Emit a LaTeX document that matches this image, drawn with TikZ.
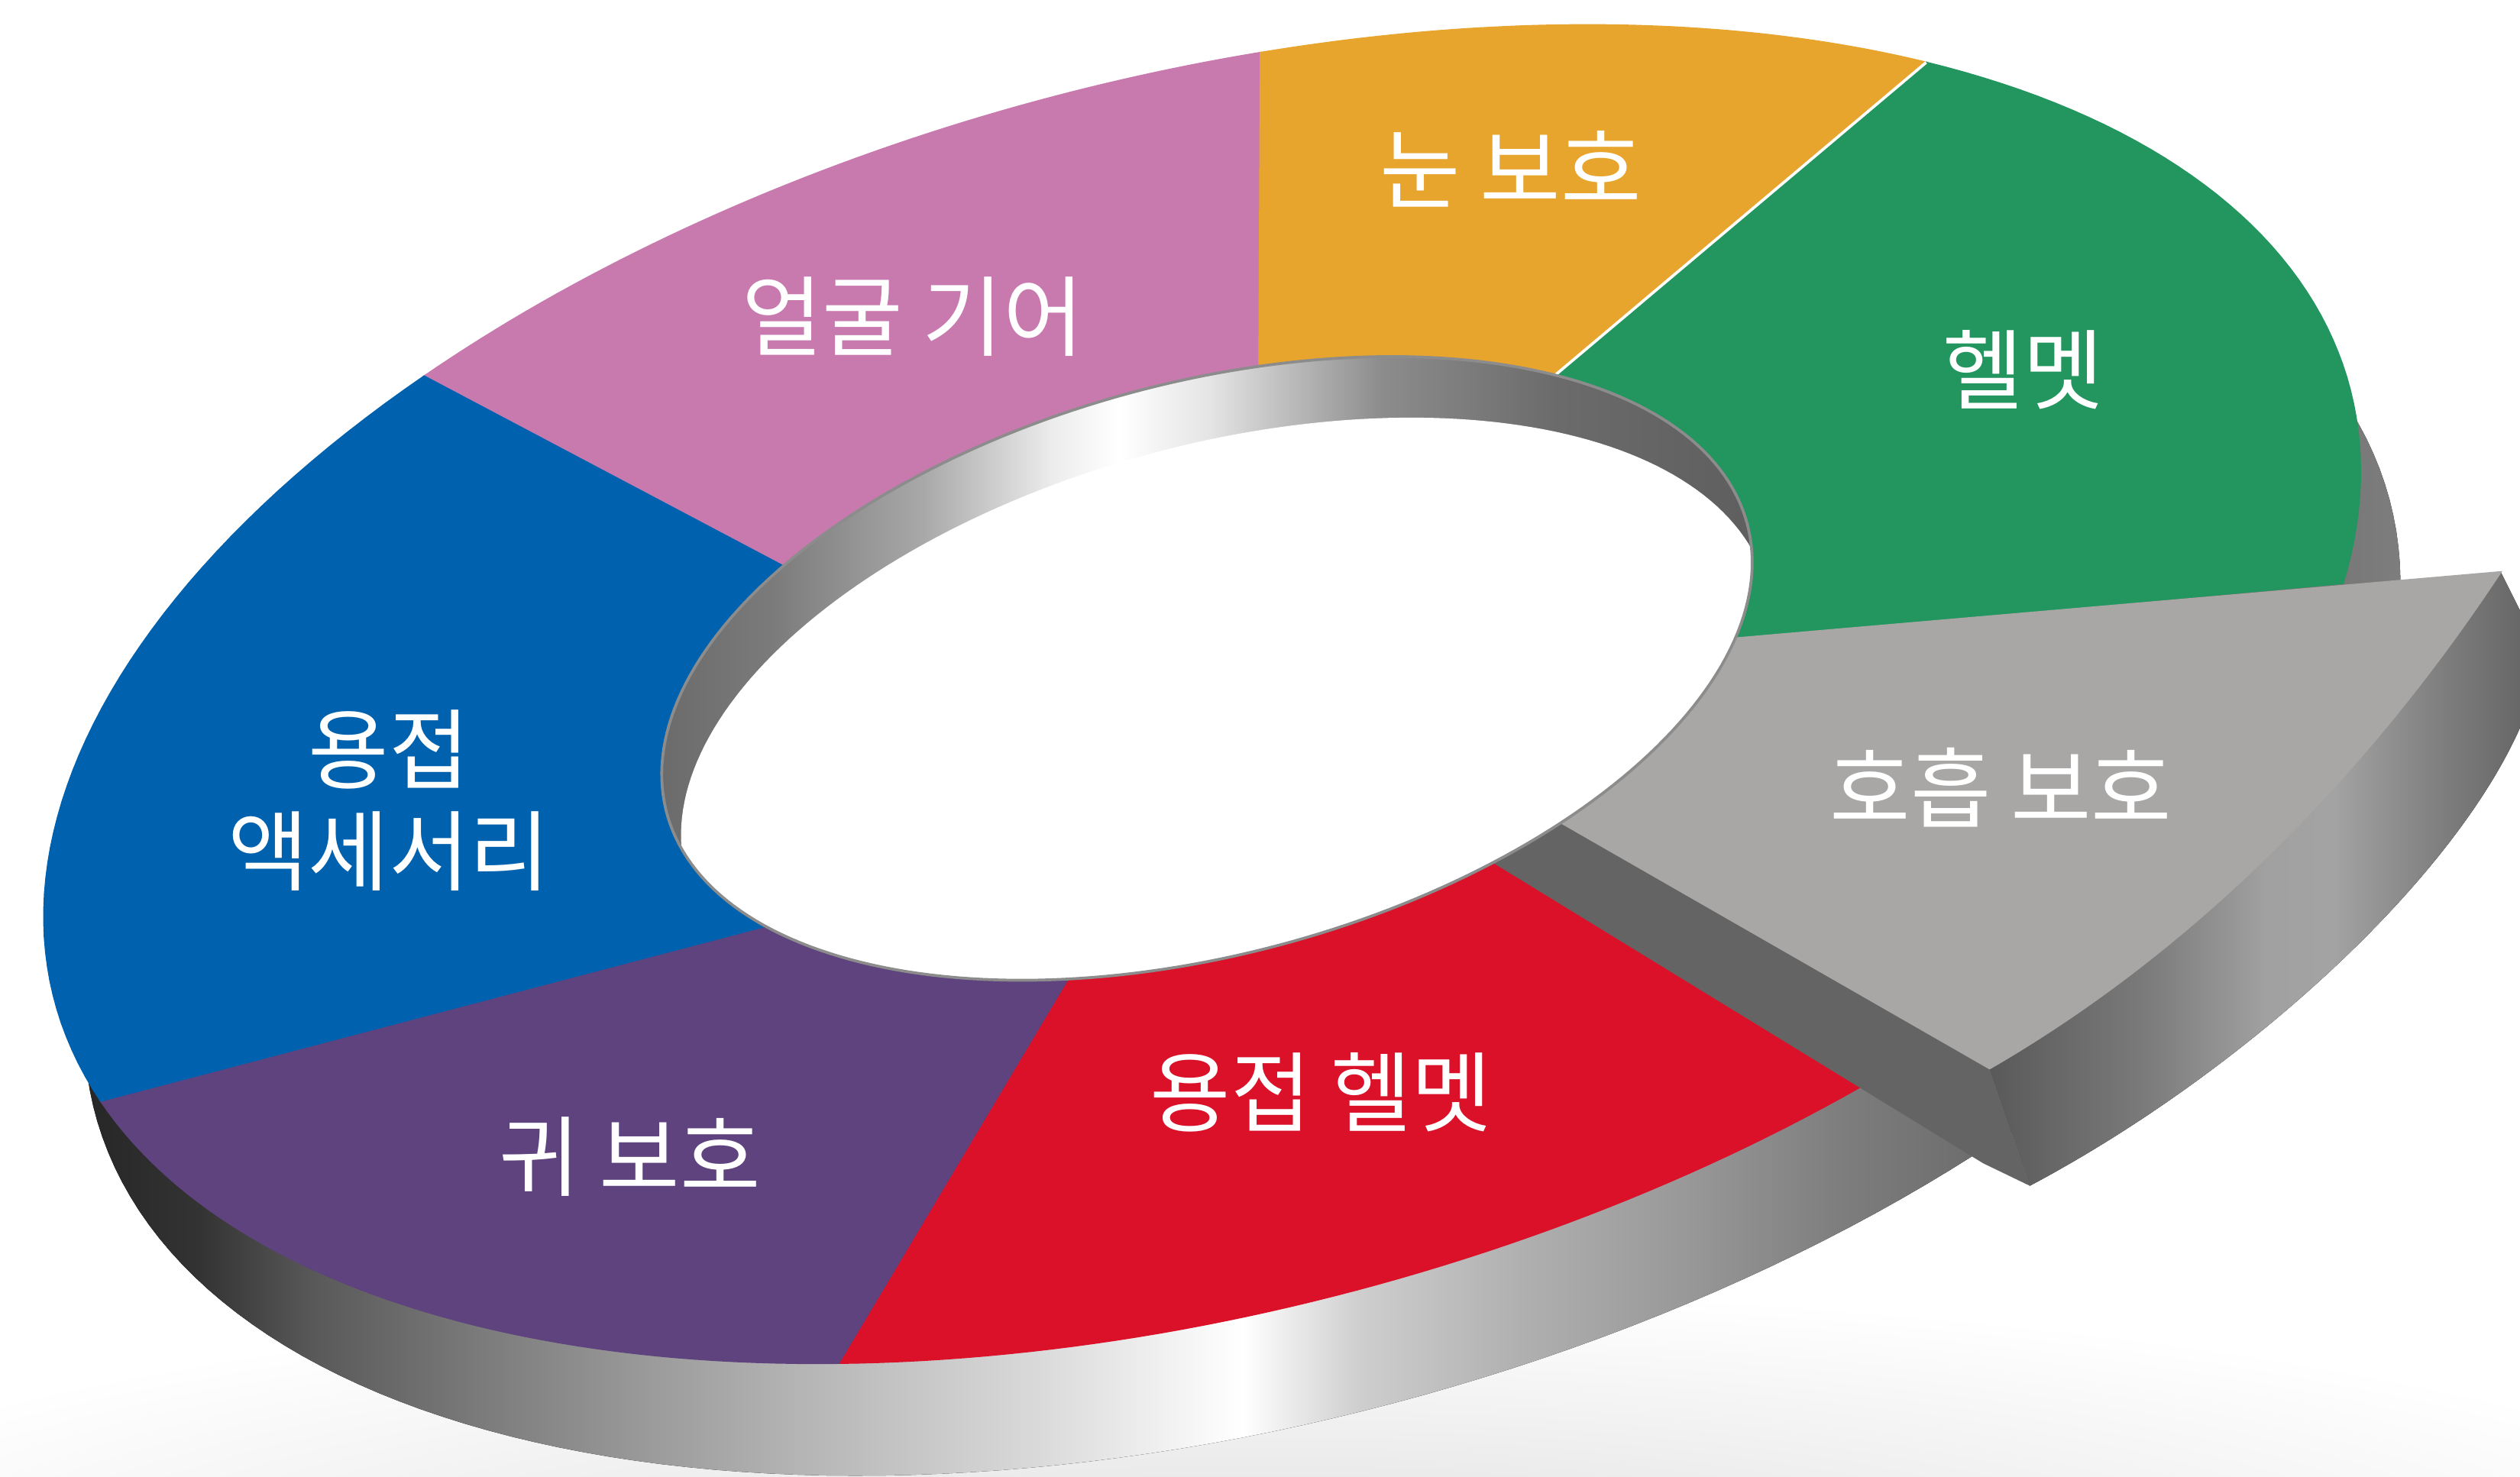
\documentclass[tikz,border=0pt]{standalone}
\usepackage{fontspec}
\newfontfamily\kofont{Noto Sans CJK KR}
\definecolor{facegear}{HTML}{C87AAF}
\definecolor{eyeprot}{HTML}{E8A52D}
\definecolor{helmet}{HTML}{23965F}
\definecolor{resp}{HTML}{A9A7A5}
\definecolor{weldhelmet}{HTML}{DA1129}
\definecolor{earprot}{HTML}{5E437E}
\definecolor{weldacc}{HTML}{0062AE}
\definecolor{cutface}{HTML}{646464}
\pgfdeclarehorizontalshading{outerwall}{100bp}{color(0bp)=(black!85); color(25bp)=(black!85); color(27.5bp)=(black!80); color(30bp)=(black!65); color(33.5bp)=(black!52); color(37bp)=(black!40); color(40.5bp)=(black!29); color(45.5bp)=(black!15); color(50bp)=(white); color(52.5bp)=(black!19); color(56bp)=(black!31); color(59.5bp)=(black!40); color(63bp)=(black!51); color(68bp)=(black!62); color(75bp)=(black!51); color(100bp)=(black!51)}
\pgfdeclarehorizontalshading{innerwall}{100bp}{color(0bp)=(black!58); color(25bp)=(black!58); color(30bp)=(black!52); color(37bp)=(black!34); color(43bp)=(black!7); color(46bp)=(white); color(50bp)=(black!10); color(58bp)=(black!45); color(66bp)=(black!58); color(75bp)=(black!63); color(100bp)=(black!63)}
\pgfdeclarehorizontalshading{grayside}{100bp}{color(0bp)=(black!65); color(25bp)=(black!65); color(39bp)=(black!52); color(50bp)=(black!37); color(56bp)=(black!36); color(67bp)=(black!52); color(75bp)=(black!62); color(100bp)=(black!62)}
\begin{document}
\begin{tikzpicture}[x=0.01cm,y=-0.01cm,samples=50,variable=\t,
  declare function={ox(\t)=748+739*cos(\t)*0.9659+383*sin(\t)*0.2588;
    oy(\t)=432-739*cos(\t)*0.2588+383*sin(\t)*0.9659;
    ix(\t)=751+348*cos(\t)*0.9659+178*sin(\t)*0.2588;
    iy(\t)=416-348*cos(\t)*0.2588+178*sin(\t)*0.9659;},
  seg/.style={fill=#1,draw=#1,line width=0.3pt},
  ring/.style={samples=240},
  lbl/.style={text=white,font=\kofont\fontsize{15.5}{18}\selectfont,align=center,inner sep=0pt}]
 \useasboundingbox (0,0) rectangle (1568,919);
 \shade[inner color=black!13,outer color=white] (-220,800) rectangle (1780,1180);
 \fill[shading=outerwall,ring] plot[domain=0:360] ({ox(\t)+25},{oy(\t)+70}) -- cycle;
 \path[seg=facegear] plot[domain=235.7:280.8] ({ox(\t)},{oy(\t)}) -- plot[domain=283.3:226.8] ({ix(\t)},{iy(\t)}) -- cycle;
 \path[seg=eyeprot] plot[domain=280.8:316.6] ({ox(\t)},{oy(\t)}) -- plot[domain=317.5:283.3] ({ix(\t)},{iy(\t)}) -- cycle;
 \path[seg=helmet] plot[domain=316.6:377.8] ({ox(\t)},{oy(\t)}) -- plot[domain=382.1:317.5] ({ix(\t)},{iy(\t)}) -- cycle;
 \path[seg=weldhelmet] plot[domain=63.3:116.2] ({ox(\t)},{oy(\t)}) -- plot[domain=112.6:66.1] ({ix(\t)},{iy(\t)}) -- cycle;
 \path[seg=earprot] plot[domain=116.2:169.9] ({ox(\t)},{oy(\t)}) -- plot[domain=151.9:112.6] ({ix(\t)},{iy(\t)}) -- cycle;
 \path[seg=weldacc] plot[domain=169.9:235.7] ({ox(\t)},{oy(\t)}) -- plot[domain=226.8:151.9] ({ix(\t)},{iy(\t)}) -- cycle;
 \draw[white,line width=0.5pt] ({ox(316.6)},{oy(316.6)}) -- ({ix(317.5)},{iy(317.5)});
 \fill[shading=grayside] (1556,356) .. controls (1473.5,481) and (1366,591) .. (1238,665) -- (1263,738) .. controls (1410,660) and (1565,515) .. (1582,408) -- cycle;
 \fill[cutface] (929,537) -- (971,512) -- (1238,665) -- (1263,738) -- (1234,724) -- cycle;
 \path[seg=resp] ({ix(22.1)},{iy(22.1)}) -- (1556,356) .. controls (1473.5,481) and (1366,591) .. (1238,665) -- plot[domain=57.3:22.1] ({ix(\t)},{iy(\t)}) -- cycle;
 \fill[shading=innerwall,ring] plot[domain=0:360] ({ix(\t)},{iy(\t)}) -- cycle;
 \begin{scope}[ring]
  \clip plot[domain=0:360] ({ix(\t)},{iy(\t)}) -- cycle;
  \fill[white] plot[domain=0:360] ({ix(\t)+12},{iy(\t)+38}) -- cycle;
 \end{scope}
 \draw[black!45,line width=0.5pt,ring] plot[domain=0:360] ({ix(\t)},{iy(\t)}) -- cycle;
 \node[lbl] (facelbl) at (568,197) {얼굴 기어};
 \node[lbl] (eyelbl) at (940,105) {눈 보호};
 \node[lbl] (helmetlbl) at (1259,230) {헬멧};
 \node[lbl] (resplbl) at (1245,490) {호흡 보호};
 \node[lbl] (weldhelmetlbl) at (822,680) {용접 헬멧};
 \node[lbl] (earlbl) at (392,720) {귀 보호};
 \node[lbl] (weldacclbl) at (242,498) {용접\\액세서리};
\end{tikzpicture}
\end{document}
